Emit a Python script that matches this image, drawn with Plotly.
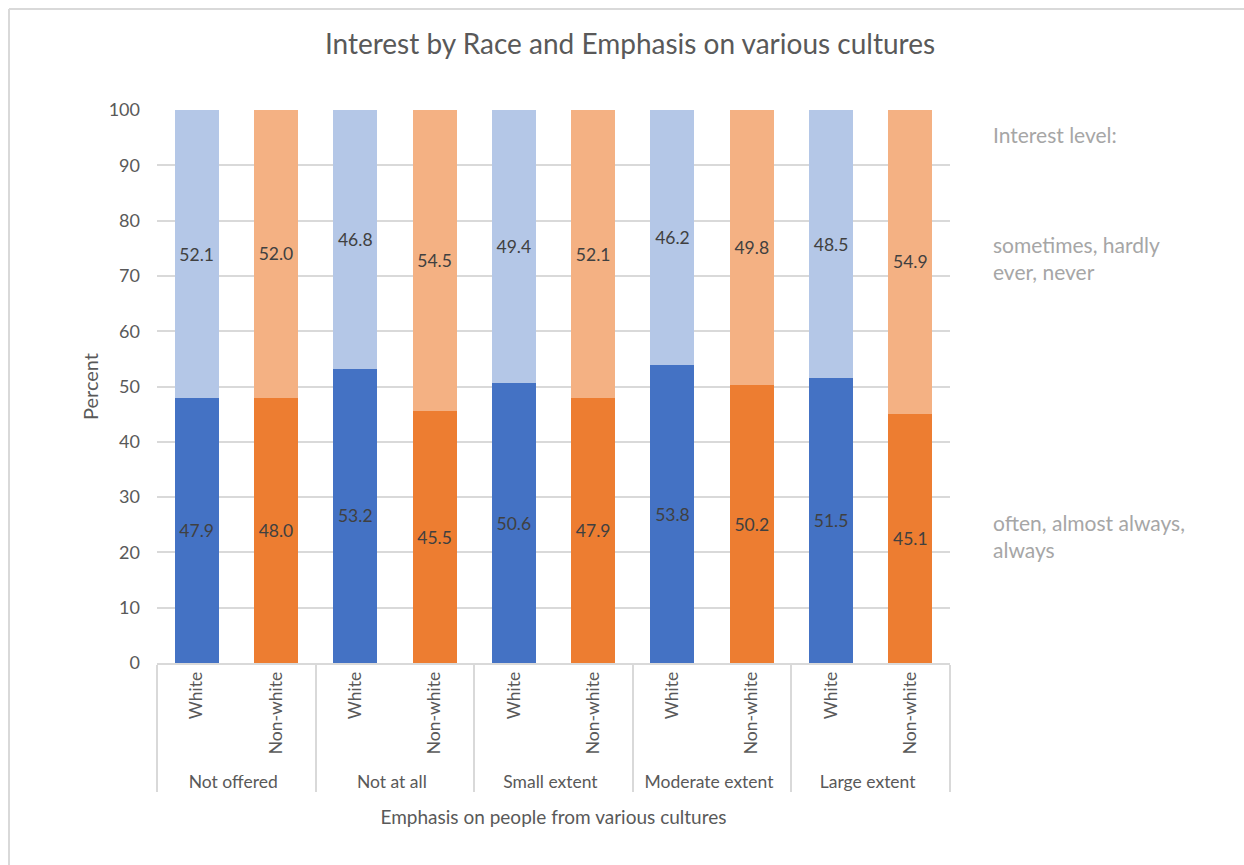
import plotly.graph_objects as go

groups = ["Not offered", "Not at all", "Small extent", "Moderate extent", "Large extent"]
races = ["White", "Non-white"]
often = [47.9, 48.0, 53.2, 45.5, 50.6, 47.9, 53.8, 50.2, 51.5, 45.1]
sometimes = [52.1, 52.0, 46.8, 54.5, 49.4, 52.1, 46.2, 49.8, 48.5, 54.9]
yticks = [0, 10, 20, 30, 40, 50, 60, 70, 80, 90, 100]

dark_cols = ["#4472C4", "#ED7D31"]
light_cols = ["#B4C7E7", "#F4B183"]

x_outer = [g for g in groups for _ in races]
x_inner = [r for _ in groups for r in races]
n = len(x_inner)

FONT = "Lato, Open Sans, sans-serif"
TXT = "#595959"

fig = go.Figure()
fig.add_trace(go.Bar(
    x=[x_outer, x_inner], y=often, name="often, almost always, always",
    marker=dict(color=[dark_cols[i % 2] for i in range(n)], line=dict(width=0)),
    text=[f"{v:.1f}" for v in often], textposition="inside", insidetextanchor="middle",
    textfont=dict(color="#404040", size=17.5, family=FONT), textangle=0,
))
fig.add_trace(go.Bar(
    x=[x_outer, x_inner], y=sometimes, name="sometimes, hardly ever, never",
    marker=dict(color=[light_cols[i % 2] for i in range(n)], line=dict(width=0)),
    text=[f"{v:.1f}" for v in sometimes], textposition="inside", insidetextanchor="middle",
    textfont=dict(color="#404040", size=17.5, family=FONT), textangle=0,
))

L, R, T, B = 157, 294, 110, 202
W, H = 1244 - L - R, 865 - T - B

def px(xp):
    return (xp - L) / W

def py(yp):
    return (865 - B - yp) / H

fig.update_layout(
    width=1244, height=865,
    margin=dict(l=L, r=R, t=T, b=B),
    barmode="stack", bargap=0.445,
    plot_bgcolor="white", paper_bgcolor="white",
    showlegend=False,
    font=dict(family=FONT, color=TXT, size=17),
    title=dict(text="Interest by Race and Emphasis on various cultures",
               xref="container", x=630 / 1244, xanchor="center",
               yref="container", y=1 - 44 / 865, yanchor="middle",
               font=dict(size=28, color=TXT, family=FONT)),
    yaxis=dict(range=[0, 100], tickvals=yticks, showgrid=True, gridcolor="#D9D9D9",
               gridwidth=1.5, zeroline=False, showline=False, ticks="",
               tickfont=dict(size=18, color=TXT), ticklabelstandoff=16,
               title=dict(text="Percent", font=dict(size=20, color=TXT), standoff=4)),
    xaxis=dict(type="multicategory", tickangle=-90, showline=True, linecolor="#D9D9D9",
               linewidth=1.5, showdividers=True, dividercolor="#D9D9D9", dividerwidth=1.5,
               ticks="", tickfont=dict(size=17.5, color=TXT),
               title=dict(text="Emphasis on people from various cultures",
                          font=dict(size=19, color=TXT), standoff=20)),
)

leg_font = dict(size=21, color="#A6A6A6", family=FONT)
fig.add_annotation(xref="paper", yref="paper", x=px(991), y=py(134), xanchor="left",
                   yanchor="middle", text="Interest level:", showarrow=False, font=leg_font)
fig.add_annotation(xref="paper", yref="paper", x=px(991), y=py(258), xanchor="left",
                   yanchor="middle", align="left", text="sometimes, hardly<br>ever, never",
                   showarrow=False, font=leg_font)
fig.add_annotation(xref="paper", yref="paper", x=px(991), y=py(536), xanchor="left",
                   yanchor="middle", align="left", text="often, almost always,<br>always",
                   showarrow=False, font=leg_font)

# outer chart border (top and left edges visible)
fig.add_shape(type="line", xref="paper", yref="paper", x0=px(9), x1=px(1250), y0=py(9), y1=py(9),
              line=dict(color="#D9D9D9", width=2))
fig.add_shape(type="line", xref="paper", yref="paper", x0=px(9), x1=px(9), y0=py(9), y1=py(870),
              line=dict(color="#D9D9D9", width=2))

fig.write_html("out.html")
